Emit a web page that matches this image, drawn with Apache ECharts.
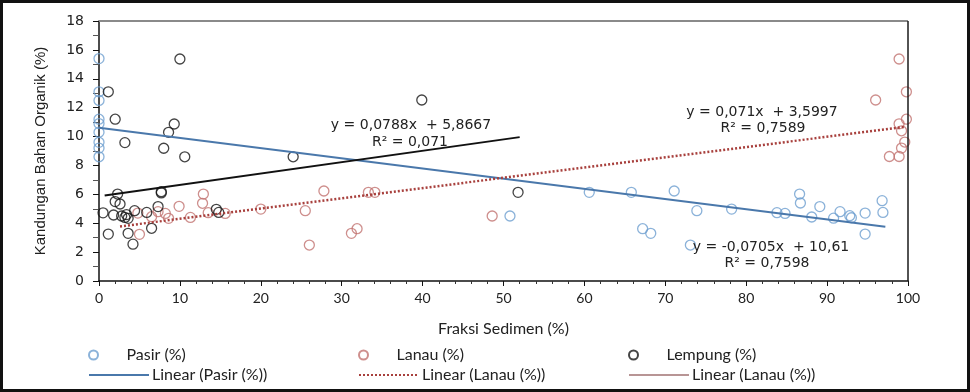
<!DOCTYPE html>
<html>
<head>
<meta charset="utf-8">
<script src="https://cdn.jsdelivr.net/npm/echarts@6/dist/echarts.min.js"></script>
<style>
html,body{margin:0;padding:0;background:#fff;}
#chart{width:970px;height:392px;}
</style>
</head>
<body>
<div id="chart"></div>
<script>
// ---- data (x = Fraksi Sedimen %, y = Kandungan Bahan Organik %) ----
var pasirPts = [
  [0,15.4],[0,13.1],[0,12.5],[0,11.2],[0,10.9],[0,10.3],[0,9.6],[0,9.2],[0,8.6],
  [50.8,4.5],[60.6,6.14],[65.8,6.14],[67.2,3.62],[68.2,3.3],[71.1,6.23],[73.1,2.49],
  [73.9,4.87],[78.2,4.98],[83.8,4.73],[84.8,4.68],[86.6,6.02],[86.7,5.4],[88.1,4.43],
  [89.1,5.15],[90.8,4.35],[91.6,4.8],[92.8,4.52],[93.0,4.38],[94.7,4.7],[94.7,3.25],
  [96.8,5.56],[96.9,4.75]
];
var lanauPts = [
  [5.0,3.23],[4.8,4.7],[6.5,4.45],[7.3,4.8],[8.2,4.68],[8.6,4.34],[9.9,5.17],[11.3,4.4],
  [12.9,6.02],[12.8,5.38],[13.5,4.73],[15.6,4.68],[20.0,4.98],[25.5,4.87],[26.0,2.49],
  [27.8,6.23],[31.2,3.3],[31.9,3.62],[33.3,6.14],[34.1,6.14],[48.6,4.5],
  [96.0,12.53],[98.9,15.37],[99.8,13.1],[99.8,11.2],[98.9,10.88],[99.2,10.4],[99.6,9.62],
  [99.2,9.2],[97.7,8.62],[98.9,8.62]
];
var lempungPts = [
  [10.0,15.37],[1.15,13.1],[39.9,12.53],[2.0,11.2],[9.3,10.87],[8.6,10.29],[3.2,9.58],
  [8.0,9.19],[10.6,8.6],[24.0,8.6],[7.7,6.18],[7.7,6.1],[2.3,6.02],[2.0,5.5],[2.6,5.33],
  [7.3,5.15],[0.5,4.72],[1.8,4.57],[2.8,4.5],[3.2,4.4],[3.6,4.34],[3.4,4.6],[4.4,4.87],
  [5.9,4.75],[14.5,4.96],[14.8,4.75],[1.15,3.25],[3.6,3.3],[6.5,3.65],[4.2,2.55],[51.8,6.14]
];
// trend-line endpoints (from the printed regression equations)
var pasirTrend   = [[0,10.61],[97.2,3.76]];
var lanauTrend   = [[2.6,3.78],[99.5,10.66]];
var lempungTrend = [[0.7,5.92],[52.0,9.96]];

var seriesNames = ['Pasir (%)','Lanau (%)','Lempung (%)','Linear (Pasir (%))','Linear (Lanau (%))','Linear (Lanau (%))\u200b'];
var xTicks = [0,10,20,30,40,50,60,70,80,90,100];
var yTicks = [0,2,4,6,8,10,12,14,16,18];
var xMin = xTicks[0], xMax = xTicks[xTicks.length-1];
var yMin = yTicks[0], yMax = yTicks[yTicks.length-1];

var equations = [
  {text:'y = 0,0788x  + 5,8667', x:411, y:125},
  {text:'R\u00b2 = 0,071', x:410, y:142},
  {text:'y = 0,071x  + 3,5997', x:762, y:112},
  {text:'R\u00b2 = 0,7589', x:763, y:128},
  {text:'y = -0,0705x  + 10,61', x:771, y:247},
  {text:'R\u00b2 = 0,7598', x:767, y:263}
];

var cPasir = '#6e9fcf', cLanau = '#c27370', cLemp = '#151515';
var lblFont = 'Lato, "Open Sans", sans-serif';

function legendAt(idx, left, top, extra){
  var item = {name: seriesNames[idx]};
  if (idx >= 3) item.itemStyle = {opacity: 0};
  if (extra) Object.assign(item, extra);
  return {
    left: left, top: top, orient:'horizontal',
    itemWidth: 60, itemHeight: idx < 3 ? 9 : 14, itemGap: 0,
    data: [item],
    selectedMode: false,
    formatter: function(n){ return n.replace('\u200b',''); },
    textStyle: {fontFamily: lblFont, fontSize: 16, color:'#222', padding:[0,0,0,-2]}
  };
}

var chart = echarts.init(document.getElementById('chart'), null, {renderer:'canvas'});
var baseGraphics = [
  {id:'frame', type:'rect', shape:{x:1.5, y:1.5, width:967, height:389}, style:{fill:'none', stroke:'#111', lineWidth:3}, silent:true, z:100}
].concat(equations.map(function(e, i){
  return {id:'eq'+i, type:'text', x:e.x, y:e.y, z:50,
    style:{text:e.text, fill:'#222', font:'14px "DejaVu Sans", Verdana, sans-serif', textAlign:'center', textVerticalAlign:'middle'}};
}));

var option = {
  backgroundColor:'#fff',
  animation:false,
  grid:{left:99, right:62, top:21, bottom:111},
  xAxis:[{
    type:'value', min:xMin, max:xMax, interval:10,
    axisLine:{show:true, onZero:false, lineStyle:{color:'#111', width:1.5}},
    axisTick:{show:true, length:5, lineStyle:{color:'#111'}},
    minorTick:{show:true, splitNumber:5, length:3, lineStyle:{color:'#333'}},
    splitLine:{show:false},
    axisLabel:{fontFamily:lblFont, fontSize:14, color:'#222', margin:10},
    name:'Fraksi Sedimen (%)', nameLocation:'middle', nameGap:40,
    nameTextStyle:{fontFamily:lblFont, fontSize:16, color:'#222'}
  }],
  yAxis:[{
    type:'value', min:yMin, max:yMax, interval:2,
    axisLine:{show:true, onZero:false, lineStyle:{color:'#111', width:1.5}},
    axisTick:{show:true, length:6, lineStyle:{color:'#111'}},
    minorTick:{show:true, splitNumber:2, length:6, lineStyle:{color:'#555'}},
    splitLine:{show:false},
    axisLabel:{fontFamily:'"DejaVu Sans", Verdana, sans-serif', fontSize:14, color:'#222', margin:15},
    name:'Kandungan Bahan Organik (%)', nameLocation:'middle', nameGap:51, nameRotate:90,
    nameTextStyle:{fontFamily:'"Liberation Sans Narrow", "Arial Narrow", sans-serif', fontSize:15, color:'#222'}
  }],
  legend:[
    legendAt(0, 83, 342),
    legendAt(1, 353, 342),
    legendAt(2, 623, 342),
    legendAt(3, 83, 362),
    legendAt(4, 353, 362),
    legendAt(5, 623, 362, {lineStyle:{color:'#b89595', width:2}})
  ],
  series:[
    {name:seriesNames[0], type:'scatter', data:pasirPts, symbol:'circle', symbolSize:10,
     itemStyle:{color:'rgba(255,255,255,0)', borderColor:cPasir, borderWidth:1.3}},
    {name:seriesNames[1], type:'scatter', data:lanauPts, symbol:'circle', symbolSize:10,
     itemStyle:{color:'rgba(255,255,255,0)', borderColor:cLanau, borderWidth:1.3}},
    {name:seriesNames[2], type:'scatter', data:lempungPts, symbol:'circle', symbolSize:10,
     itemStyle:{color:'rgba(255,255,255,0)', borderColor:cLemp, borderWidth:1.3}},
    {name:seriesNames[3], type:'line', data:pasirTrend, symbol:'none',
     lineStyle:{color:'#4a78ab', width:2}, itemStyle:{color:'#4a78ab'}, z:3},
    {name:seriesNames[4], type:'line', data:lanauTrend, symbol:'none',
     lineStyle:{color:'#a8403d', width:2.5, type:[2,2]}, itemStyle:{color:'#a8403d'}, z:3},
    {name:seriesNames[5], type:'line', data:lempungTrend, symbol:'none',
     lineStyle:{color:'#111', width:2}, itemStyle:{color:'#111'}, z:3}
  ],
  graphic: baseGraphics
};
chart.setOption(option);

// plot-area top (gray) and right (dark) borders, placed through the axes' scales
var pTL = chart.convertToPixel({gridIndex:0}, [xMin, yMax]);
var pTR = chart.convertToPixel({gridIndex:0}, [xMax, yMax]);
var pBR = chart.convertToPixel({gridIndex:0}, [xMax, yMin]);
chart.setOption({graphic: baseGraphics.concat([
  {id:'bTop', type:'line', shape:{x1:pTL[0], y1:pTL[1], x2:pTR[0], y2:pTR[1]}, style:{stroke:'#8a8a8a', lineWidth:2}, silent:true, z:40},
  {id:'bRight', type:'line', shape:{x1:pTR[0], y1:pTR[1], x2:pBR[0], y2:pBR[1]}, style:{stroke:'#1a1a1a', lineWidth:1.5}, silent:true, z:40}
])});
</script>
</body>
</html>
